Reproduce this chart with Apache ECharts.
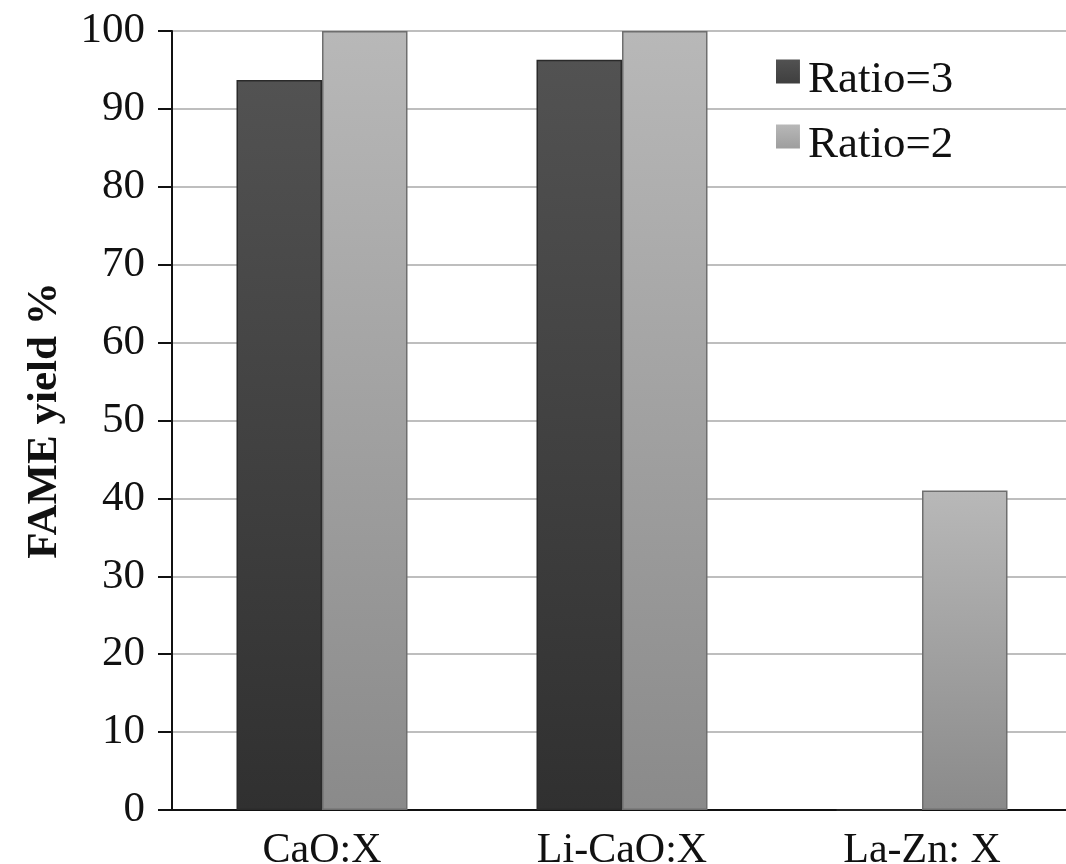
<!DOCTYPE html>
<html>
<head>
<meta charset="utf-8">
<script src="https://cdn.jsdelivr.net/npm/echarts@6/dist/echarts.min.js"></script>
<style>
  html, body { margin: 0; padding: 0; background: #fff; }
  #chart { width: 1066px; height: 864px; }
</style>
</head>
<body>
<div id="chart"></div>
<script>
// categories and values
const categories = ['CaO:X', 'Li-CaO:X', 'La-Zn: X'];
const ratio3 = [93.7, 96.3, 0];
const ratio2 = [100, 100, 41];
const yTicks = [0, 100, 10];   // min, max, interval

const serif = '"Liberation Serif", "Times New Roman", serif';

function grad(top, bottom) {
    return new echarts.graphic.LinearGradient(0, 0, 0, 1, [
        {offset: 0, color: top},
        {offset: 1, color: bottom}
    ]);
}

// square sits in the upper part of the icon box so it rides a bit above the text
const legendIcon = 'path://M0,0L24,0L24,24L0,24Z M0,42L0.1,42L0.1,42.1Z';

const option = {
    backgroundColor: '#fff',
    animation: false,
    grid: {
        left: 172,
        top: 31,
        bottom: 54,
        width: 900,
        outerBoundsMode: 'none'
    },
    legend: {
        orient: 'vertical',
        left: 771,
        top: 53,
        itemWidth: 24,
        itemHeight: 42,
        itemGap: 20,
        icon: legendIcon,
        itemStyle: {borderWidth: 0},
        textStyle: {
            fontFamily: serif,
            fontSize: 45,
            color: '#111',
            padding: [0, 0, 0, 3]
        },
        data: ['Ratio=3', 'Ratio=2']
    },
    xAxis: {
        type: 'category',
        data: categories,
        axisLine: {lineStyle: {color: '#111', width: 2}},
        axisTick: {show: false},
        axisLabel: {
            fontFamily: serif,
            fontSize: 42,
            color: '#111',
            margin: 20
        }
    },
    yAxis: {
        type: 'value',
        min: yTicks[0],
        max: yTicks[1],
        interval: yTicks[2],
        name: 'FAME yield %',
        nameLocation: 'middle',
        nameGap: 106,
        nameTextStyle: {
            fontFamily: serif,
            fontSize: 43,
            fontWeight: 'bold',
            color: '#111'
        },
        axisLine: {show: true, lineStyle: {color: '#111', width: 2}},
        axisTick: {show: true, inside: false, length: 14, lineStyle: {color: '#111', width: 2}},
        axisLabel: {
            fontFamily: serif,
            fontSize: 43,
            color: '#111',
            margin: 27
        },
        splitLine: {lineStyle: {color: '#a8a8a8', width: 1.5}}
    },
    series: [
        {
            name: 'Ratio=3',
            type: 'bar',
            data: ratio3,
            barGap: '0%',
            barCategoryGap: '43%',
            itemStyle: {
                color: grad('#525252', '#303030'),
                borderColor: '#2a2a2a',
                borderWidth: 1.5
            }
        },
        {
            name: 'Ratio=2',
            type: 'bar',
            data: ratio2,
            itemStyle: {
                color: grad('#b8b8b8', '#8a8a8a'),
                borderColor: '#6e6e6e',
                borderWidth: 1.5
            }
        }
    ]
};

const chart = echarts.init(document.getElementById('chart'));
chart.setOption(option);
window.addEventListener('resize', function () {
    chart.resize();
});
</script>
</body>
</html>
